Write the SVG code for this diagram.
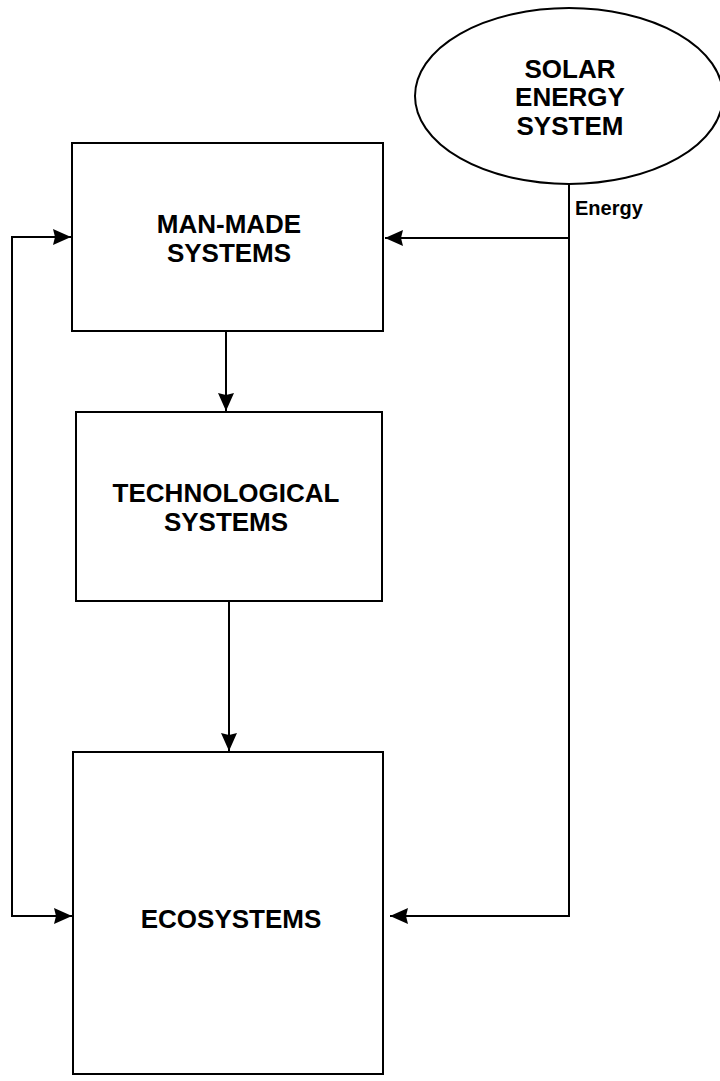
<svg xmlns="http://www.w3.org/2000/svg" width="720" height="1081" viewBox="0 0 720 1081">
<defs>
<marker id="ah" viewBox="0 0 18 16" refX="18" refY="8" markerWidth="18" markerHeight="16" markerUnits="userSpaceOnUse" orient="auto">
<path d="M0,0 L18,8 L0,16 L2,8 Z" fill="#000"/>
</marker>
<style>
.box{fill:#fff;stroke:#000;stroke-width:2}
.t{font-family:"Liberation Sans",Arial,sans-serif;font-weight:bold;fill:#000;text-anchor:middle}
.big{font-size:26px}
.lbl{font-family:"Liberation Sans",Arial,sans-serif;font-weight:bold;font-size:20px;fill:#000}
.c{fill:none;stroke:#000;stroke-width:2}
</style>
</defs>
<rect width="720" height="1081" fill="#fff"/>
<g id="connectors">
<path class="c" d="M569,184 V916 H390" marker-end="url(#ah)"/>
<path class="c" d="M569,238 H385" marker-end="url(#ah)"/>
<path class="c" d="M12,916 V237 H71" marker-end="url(#ah)"/>
<path class="c" d="M12,600 V916 H72" marker-end="url(#ah)"/>
<path class="c" d="M226,331 V411" marker-end="url(#ah)"/>
<path class="c" d="M229,601 V751" marker-end="url(#ah)"/>
<text class="lbl" x="575" y="215">Energy</text>
</g>
<g id="solar">
<ellipse class="box" cx="569" cy="96" rx="154" ry="88"/>
<text class="t big" x="570" y="78">SOLAR</text>
<text class="t big" x="570" y="106">ENERGY</text>
<text class="t big" x="570" y="135">SYSTEM</text>
</g>
<g id="manmade">
<rect class="box" x="72" y="143" width="311" height="188"/>
<text class="t big" x="229" y="233">MAN-MADE</text>
<text class="t big" x="229" y="262">SYSTEMS</text>
</g>
<g id="tech">
<rect class="box" x="76" y="412" width="306" height="189"/>
<text class="t big" x="226" y="502">TECHNOLOGICAL</text>
<text class="t big" x="226" y="531">SYSTEMS</text>
</g>
<g id="eco">
<rect class="box" x="73" y="752" width="310" height="322"/>
<text class="t big" x="231" y="928">ECOSYSTEMS</text>
</g>
</svg>
